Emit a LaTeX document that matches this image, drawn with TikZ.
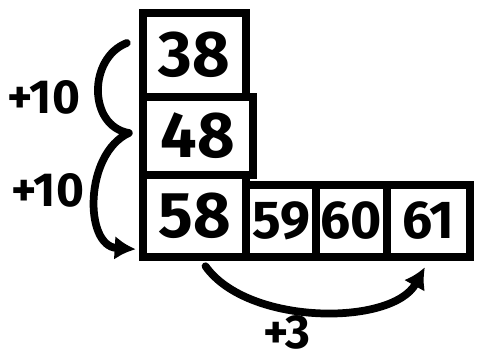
\documentclass[tikz,border=0pt]{standalone}
\usepackage{fontspec}
\setsansfont{Fira Sans}
\usetikzlibrary{arrows.meta}
\begin{document}
\begin{tikzpicture}[>={Latex[length=15pt,width=17pt]},
  box/.style={draw, line width=6pt, inner sep=0pt, font=\sffamily\bfseries\fontsize{46}{46}\selectfont},
  small/.style={font=\sffamily\bfseries\fontsize{38}{38}\selectfont},
  jump/.style={line width=5.5pt, line cap=round},
  step label/.style={font=\sffamily\bfseries\fontsize{34}{34}\selectfont}]
\useasboundingbox (0,0) rectangle (11.925,9.05);
% the column of tens
\node[box, minimum width=2.575cm, minimum height=2.1cm] (b38) at (4.8625,7.675) {38};
\node[box, minimum width=2.75cm, minimum height=1.95cm] (b48) at (4.95,5.65) {48};
\node[box, minimum width=2.575cm, minimum height=2.05cm] (b58) at (4.8625,3.65) {58};
% the row of ones
\node[box, small, minimum width=1.75cm, minimum height=1.8cm] (b59) at (7.025,3.525) {59};
\node[box, small, minimum width=1.775cm, minimum height=1.8cm] (b60) at (8.7875,3.525) {60};
\node[box, small, minimum width=2.075cm, minimum height=1.8cm] (b61) at (10.7125,3.525) {61};
% jumps
\draw[jump] ([shift={(-0.3,0.3)}]b38.west) .. controls (2.2,7.6) and (2.2,5.9) .. ([shift={(-0.25,0.075)}]b48.west);
\draw[jump,->] ([shift={(-0.25,0.075)}]b48.west) .. controls (2.1,5.2) and (2.1,2.9) .. ([shift={(-0.075,0.3)}]b58.south west);
\draw[jump,->] ([shift={(0.275,-0.125)}]b58.south) .. controls (6.2,0.9) and (9.8,0.9) .. ([shift={(-0.09,-0.15)}]b61.south);
\node[step label] (t1) at (1.1,6.625) {+10};
\node[step label] (t2) at (1.2,4.3) {+10};
\node[step label] (t3) at (7.175,0.75) {+3};
\end{tikzpicture}
\end{document}
